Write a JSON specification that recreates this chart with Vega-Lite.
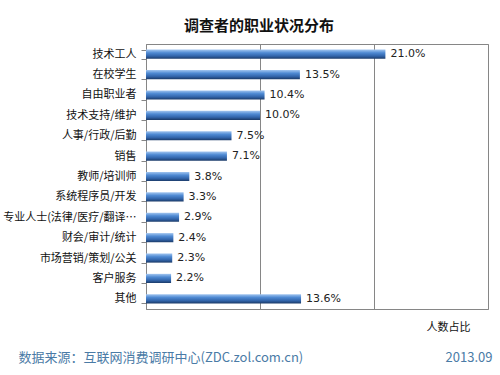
{
  "$schema": "https://vega.github.io/schema/vega-lite/v6.json",
  "width": 342,
  "height": 265,
  "autosize": "none",
  "padding": {"left": 146, "top": 44, "right": 12, "bottom": 66},
  "background": "white",
  "title": {
    "text": "调查者的职业状况分布",
    "anchor": "middle",
    "frame": "group",
    "dx": -58,
    "offset": 4,
    "fontSize": 15,
    "font": "Noto Sans CJK SC",
    "fontWeight": "bold",
    "color": "#111111"
  },
  "config": {
    "view": {"stroke": "#868686", "strokeWidth": 1},
    "font": "Noto Sans CJK SC"
  },
  "data": {
    "values": [
      {"职业": "技术工人", "占比": 0.21},
      {"职业": "在校学生", "占比": 0.135},
      {"职业": "自由职业者", "占比": 0.104},
      {"职业": "技术支持/维护", "占比": 0.10},
      {"职业": "人事/行政/后勤", "占比": 0.075},
      {"职业": "销售", "占比": 0.071},
      {"职业": "教师/培训师", "占比": 0.038},
      {"职业": "系统程序员/开发", "占比": 0.033},
      {"职业": "专业人士(法律/医疗/翻译…", "占比": 0.029},
      {"职业": "财会/审计/统计", "占比": 0.024},
      {"职业": "市场营销/策划/公关", "占比": 0.023},
      {"职业": "客户服务", "占比": 0.022},
      {"职业": "其他", "占比": 0.136}
    ]
  },
  "layer": [
    {
      "mark": {
        "type": "bar",
        "color": {
          "gradient": "linear",
          "x1": 0, "y1": 0, "x2": 0, "y2": 1,
          "stops": [
            {"offset": 0, "color": "#a3c6f0"},
            {"offset": 0.35, "color": "#4f8ad3"},
            {"offset": 0.7, "color": "#3265ab"},
            {"offset": 1, "color": "#1b3a68"}
          ]
        }
      },
      "encoding": {
        "y": {
          "field": "职业",
          "type": "nominal",
          "sort": null,
          "scale": {"paddingInner": 0.55, "paddingOuter": 0.275},
          "axis": {
            "orient": "left",
            "labelFontSize": 11,
            "labelColor": "#111111",
            "labelPadding": 5,
            "labelLimit": 150,
            "tickSize": 5,
            "tickBand": "extent",
            "tickColor": "#868686",
            "domainColor": "#868686",
            "title": "数据来源：互联网消费调研中心(ZDC.zol.com.cn)",
            "titleAngle": 0,
            "titleAlign": "left",
            "titleBaseline": "middle",
            "titleX": -128,
            "titleY": 313,
            "titleFontSize": 13,
            "titleFontWeight": "normal",
            "titleColor": "#4a7ba6"
          }
        },
        "x": {
          "field": "占比",
          "type": "quantitative",
          "scale": {"domain": [0, 0.3], "nice": false},
          "axis": {
            "values": [0, 0.1, 0.2, 0.3],
            "grid": true,
            "gridColor": "#868686",
            "gridOpacity": 1,
            "labels": false,
            "ticks": false,
            "domain": false,
            "title": "人数占比",
            "titleAlign": "right",
            "titleBaseline": "middle",
            "titleX": 324,
            "titleY": 18,
            "titleFontSize": 11,
            "titleFontWeight": "normal",
            "titleColor": "#111111"
          }
        }
      }
    },
    {
      "mark": {"type": "text", "align": "left", "baseline": "middle", "dx": 5, "fontSize": 11, "color": "#222222", "font": "DejaVu Sans"},
      "encoding": {
        "y": {
          "field": "职业",
          "type": "nominal",
          "sort": null,
          "scale": {"paddingInner": 0.55, "paddingOuter": 0.275},
          "axis": {
            "orient": "right",
            "labels": false,
            "ticks": false,
            "domain": false,
            "grid": false,
            "title": "2013.09",
            "titleAngle": 0,
            "titleAlign": "right",
            "titleBaseline": "middle",
            "titleX": 4,
            "titleY": 313,
            "titleFontSize": 13,
            "titleFontWeight": "normal",
            "titleColor": "#4a7ba6"
          }
        },
        "x": {"field": "占比", "type": "quantitative"},
        "text": {"field": "占比", "type": "quantitative", "format": ".1%"}
      }
    }
  ],
  "resolve": {"scale": {"y": "independent"}}
}
